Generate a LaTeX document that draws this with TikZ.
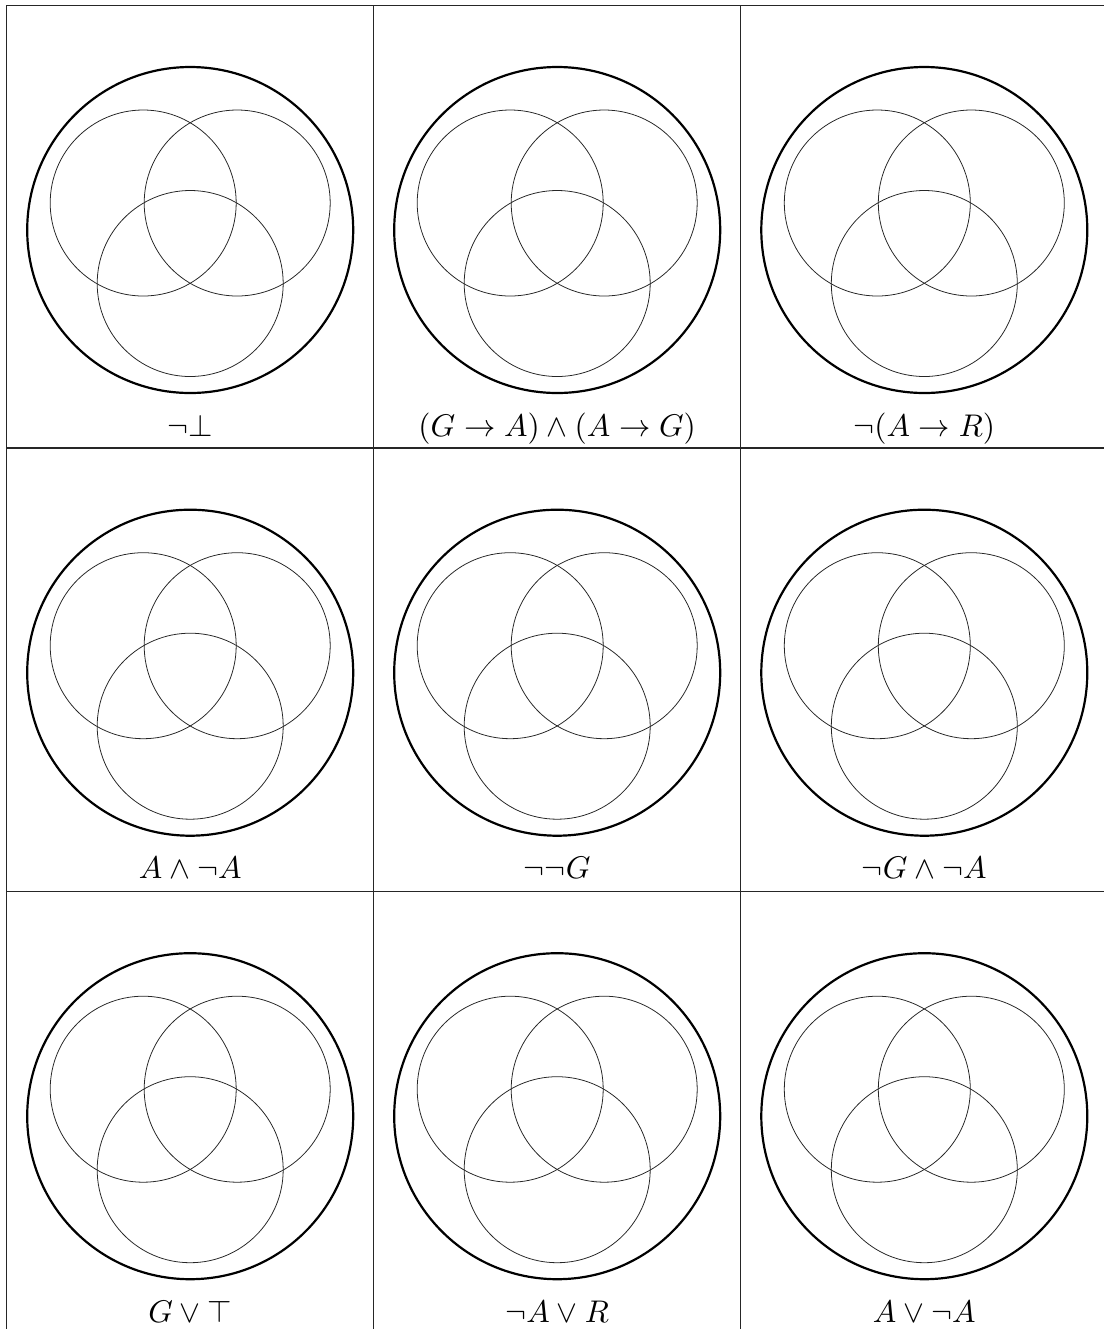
\documentclass[tikz,border=0pt]{standalone}
\usepackage{amsmath}
\begin{document}
\begin{tikzpicture}[x=0.319pt,y=-0.319pt,
  gridline/.style={line width=0.45pt,draw=black!85},
  universe/.style={line width=0.7pt,draw=black},
  setcircle/.style={line width=0.25pt,draw=black!85},
  formula/.style={anchor=base,inner sep=0pt,font=\normalsize}]
\useasboundingbox (0,0) rectangle (1104,1329);
\clip (0,0) rectangle (1104,1329);
% table grid
\foreach \xx in {6.5,373.7,740.7,1107.9}
  \draw[gridline] (\xx,5.3) -- (\xx,1340);
\foreach \yy in {5.3,448,891.5}
  \draw[gridline] (6.5,\yy) -- (1110,\yy);
% Venn diagrams
\foreach \cx in {190.2,557.2,924.3}{
  \foreach \ry in {5.3,448,891.5}{
    \pgfmathsetmacro{\cy}{\ry+224.7}
    \draw[universe] (\cx,\cy) circle[radius=163];
    \draw[setcircle] (\cx-47,\cy-27) circle[radius=93];
    \draw[setcircle] (\cx+47,\cy-27) circle[radius=93];
    \draw[setcircle] (\cx,\cy+53.5) circle[radius=93];
  }
}
% labels
\node[formula] (l11) at (190.2,436) {$\neg\bot$};
\node[formula] (l12) at (557.2,436) {$(G \to A) \land (A \to G)$};
\node[formula] (l13) at (924.3,436) {$\neg(A \to R)$};
\node[formula] (l21) at (190.2,878.7) {$A \land \neg A$};
\node[formula] (l22) at (557.2,878.7) {$\neg\neg G$};
\node[formula] (l23) at (924.3,878.7) {$\neg G \land \neg A$};
\node[formula] (l31) at (190.2,1322.2) {$G \lor \top$};
\node[formula] (l32) at (557.2,1322.2) {$\neg A \lor R$};
\node[formula] (l33) at (924.3,1322.2) {$A \lor \neg A$};
\end{tikzpicture}
\end{document}
